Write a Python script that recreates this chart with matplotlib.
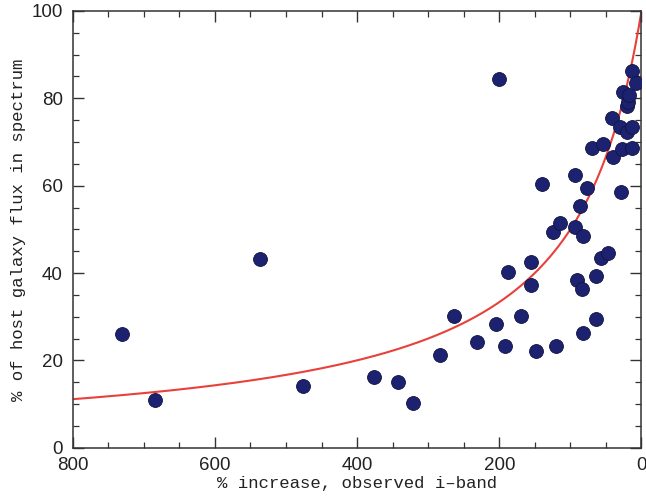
import numpy as np
import matplotlib
matplotlib.use("Agg")
import matplotlib.pyplot as plt
from matplotlib.ticker import MultipleLocator

# Data
x_increase = [731, 684, 537, 476, 376, 342, 322, 283, 263, 231, 204, 200, 192, 188,
              170, 155, 155, 149, 140, 124, 120, 115, 93.5, 93.5, 91, 86.5, 83.7, 81.9,
              82.3, 77, 70, 64, 64, 57.4, 53.7, 47.5, 41, 39.7, 30.2, 29.3, 27.8, 25.6,
              20.8, 20.8, 18.6, 17.2, 13.8, 13.8, 13.8, 8.2]
y_host = [26.0, 10.9, 43.2, 14.1, 16.2, 15.1, 10.2, 21.2, 30.2, 24.2, 28.3, 84.4, 23.3, 40.3,
          30.2, 42.5, 37.3, 22.2, 60.4, 49.3, 23.3, 51.4, 62.4, 50.5, 38.4, 55.4, 36.3, 48.5,
          26.2, 59.5, 68.6, 39.3, 29.4, 43.4, 69.5, 44.5, 75.4, 66.5, 73.5, 58.5, 68.5, 81.5,
          78.3, 72.4, 79.2, 80.8, 86.3, 73.5, 68.6, 83.4]

# Model curve: host fraction = 100 / (1 + increase/100)
x_model = np.linspace(0, 800, 400)
y_model = 100.0 / (1.0 + x_model / 100.0)

fig = plt.figure(figsize=(6.46, 4.97), dpi=100)
ax = fig.add_axes([0.1125, 0.0992, 0.8805, 0.8787])

ax.plot(x_model, y_model, color="#e8403a", lw=1.5, zorder=2)
ax.scatter(x_increase, y_host, s=100, color="#1c2270", edgecolors="#101440",
           linewidths=0.6, zorder=3)

ax.set_xlim(800, 0)
ax.set_ylim(0, 100)
ax.xaxis.set_major_locator(MultipleLocator(200))
ax.xaxis.set_minor_locator(MultipleLocator(50))
ax.yaxis.set_major_locator(MultipleLocator(20))
ax.yaxis.set_minor_locator(MultipleLocator(5))
ax.tick_params(which="both", direction="in", top=True, right=True, color="#333333")
ax.tick_params(which="major", length=8, width=1, labelsize=13.5, pad=7, labelcolor="#222222")
ax.tick_params(which="minor", length=4, width=0.9)
for sp in ax.spines.values():
    sp.set_color("#333333")
    sp.set_linewidth(1.1)

for lab in ax.get_xticklabels() + ax.get_yticklabels():
    lab.set_family("Liberation Sans")

ax.set_xlabel("% increase, observed i\u2013band", family="Liberation Mono", fontsize=12.5,
              labelpad=1, color="#222222")
ax.set_ylabel("% of host galaxy flux in spectrum", family="Liberation Mono", fontsize=12.5,
              labelpad=4, color="#222222")

fig.savefig("out.png", dpi=100)
